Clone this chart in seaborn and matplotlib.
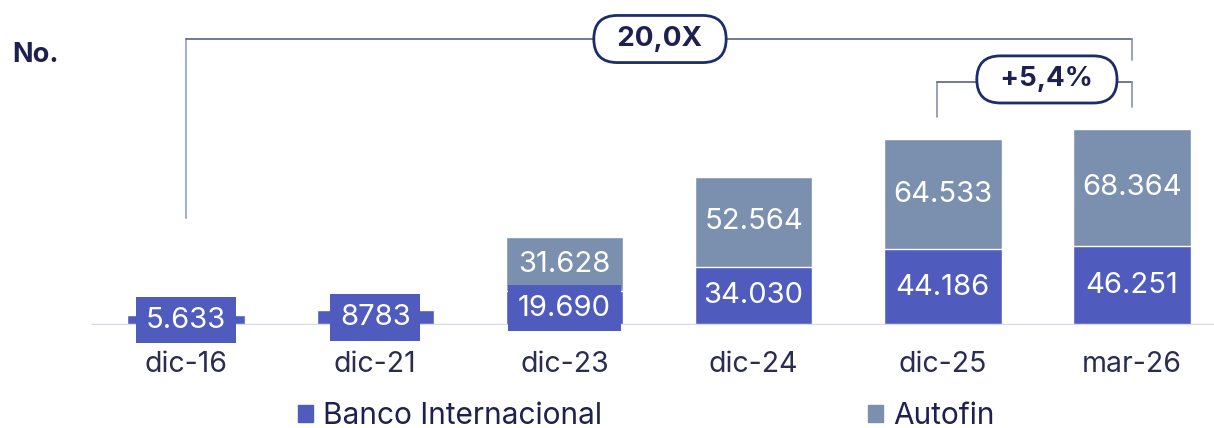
import matplotlib
matplotlib.use("Agg")
import matplotlib.pyplot as plt
import matplotlib.patches as mpatches
import seaborn as sns
import pandas as pd

periods = ["dic-16", "dic-21", "dic-23", "dic-24", "dic-25", "mar-26"]
banco = [5633, 8783, 19690, 34030, 44186, 46251]
autofin = [0, 0, 31628, 52564, 64533, 68364]
banco_labels = ["5.633", "8783", "19.690", "34.030", "44.186", "46.251"]
autofin_labels = ["", "", "31.628", "52.564", "64.533", "68.364"]
growth_total = "20,0X"
growth_last = "+5,4%"

BLUE = "#505BBE"
GREY = "#7B90AE"
NAVY = "#1E2150"
TICK = "#2A2C52"

sns.set_theme(style="white")
plt.rcParams["font.family"] = ["Inter", "DejaVu Sans"]

df = pd.DataFrame({"period": periods, "banco": banco, "autofin": autofin})
df["total"] = df["banco"] + df["autofin"]

fig = plt.figure(figsize=(12.14, 4.28), dpi=100)
ax = fig.add_axes([0, 103 / 428, 1, 325 / 428])

sns.barplot(data=df, x="period", y="total", color=GREY, width=0.62,
            saturation=1, ax=ax)
sns.barplot(data=df, x="period", y="banco", color=BLUE, width=0.62,
            saturation=1, ax=ax)

ax.set_xlim(-0.983, 5.433)
ax.set_ylim(0, 189950)
for s in ax.spines.values():
    s.set_visible(False)
ax.set_yticks([])
ax.set_xlabel("")
ax.set_ylabel("")
ax.tick_params(axis="x", length=0, pad=19, labelsize=20.5, labelcolor=TICK)
ax.axhline(0, xmin=92 / 1214, xmax=1, color="#D8D8EE", lw=2.5, zorder=1)

# value labels
for i in range(len(periods)):
    yb = banco[i] / 2
    small = banco[i] < 25000
    box = dict(boxstyle="square,pad=0.33", fc=BLUE, ec="none") if small else None
    ax.text(i, yb, banco_labels[i], ha="center", va="center", color="white",
            fontsize=21, bbox=box, zorder=5, clip_on=False)
    if autofin[i] > 0:
        ax.text(i, banco[i] + autofin[i] / 2, autofin_labels[i], ha="center",
                va="center", color="white", fontsize=21, zorder=4)

# brackets
dark_line = "#5B6282"
light_line = "#A3B1CB"
top_big, left_low, right_low = 167150, 62535, 154880
ax.plot([0, 0], [left_low, top_big], color=light_line, lw=1.5, clip_on=False)
ax.plot([0, 5], [top_big, top_big], color=dark_line, lw=1.2, clip_on=False)
ax.plot([5, 5], [top_big, right_low], color="#8890B0", lw=1.2, clip_on=False)
ax.text(2.505, top_big, "  " + growth_total + "  ", ha="center", va="center",
        fontsize=20, fontweight="bold", color=NAVY, zorder=6,
        bbox=dict(boxstyle="round,pad=0.38,rounding_size=0.85", fc="white",
                  ec="#1B2D6B", lw=2))

top_small, left_small, right_small = 142020, 121570, 127410
ax.plot([3.97, 3.97], [left_small, top_small], color="#8890B0", lw=1.2, clip_on=False)
ax.plot([3.97, 5], [top_small, top_small], color=dark_line, lw=1.2, clip_on=False)
ax.plot([5, 5], [top_small, right_small], color="#8890B0", lw=1.2, clip_on=False)
ax.text(4.55, top_small + 1500, "  " + growth_last + "  ", ha="center", va="center",
        fontsize=20, fontweight="bold", color=NAVY, zorder=6,
        bbox=dict(boxstyle="round,pad=0.38,rounding_size=0.85", fc="white",
                  ec="#1B2D6B", lw=2))

fig.text(12 / 1214, 1 - 55 / 428, "No.", ha="left", va="center",
         fontsize=19.5, fontweight="bold", color=NAVY)

handles = [mpatches.Patch(color=BLUE, label="Banco Internacional"),
           mpatches.Patch(color=GREY, label="Autofin")]
fig.legend(handles=handles, loc="center left", bbox_to_anchor=(298 / 1214, 1 - 416 / 428),
           ncol=2, frameon=False, fontsize=21.5, labelcolor=NAVY,
           handlelength=0.5, handleheight=0.5, handletextpad=0.35,
           columnspacing=8.9, borderaxespad=0, borderpad=0)

fig.savefig("out.png", dpi=100)
